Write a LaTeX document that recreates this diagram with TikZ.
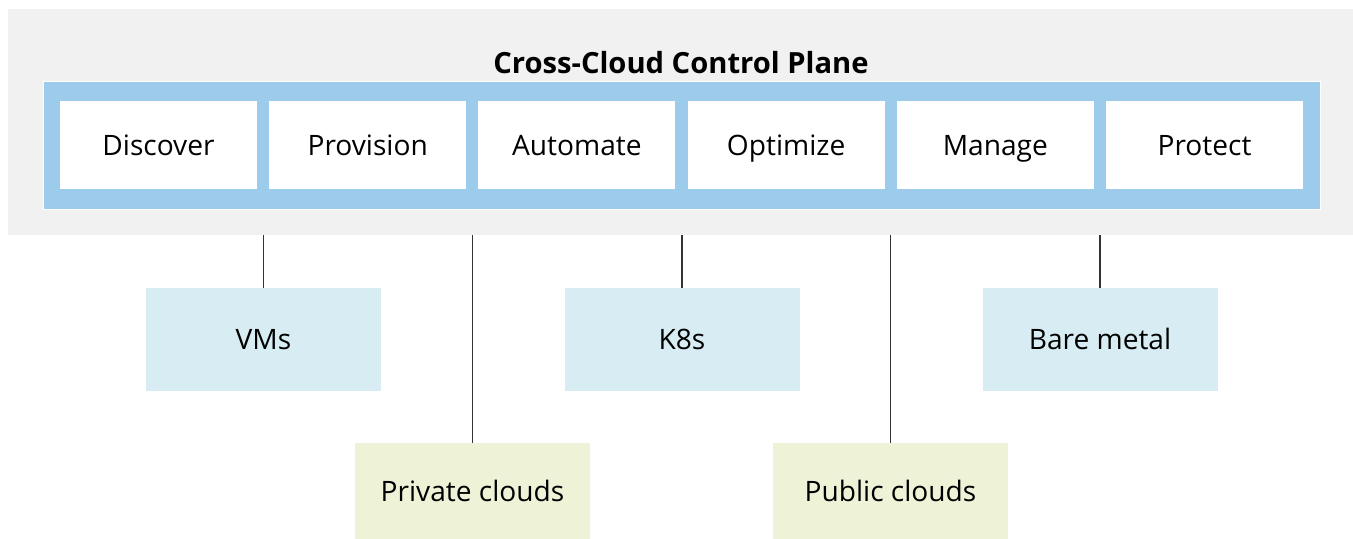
\documentclass[tikz,border=0pt]{standalone}
\usepackage{fontspec}
\setmainfont{Open Sans}
\usetikzlibrary{positioning}
\definecolor{planebg}{HTML}{F1F1F1}
\definecolor{barblue}{HTML}{9DCBEC}
\definecolor{envblue}{HTML}{D7EDF3}
\definecolor{envgreen}{HTML}{EEF3D8}
\definecolor{wire}{HTML}{333333}
\tikzset{
  base/.style={align=center, inner sep=0pt, text height=11.4pt, text depth=0pt,
               font=\fontsize{16}{19}\selectfont},
  fnbox/.style={base, fill=white, minimum width=3.94cm, minimum height=1.76cm},
  envbox/.style={base, fill=envblue, minimum width=4.7cm, minimum height=2.06cm},
  cloudbox/.style={base, fill=envgreen, minimum width=4.7cm, minimum height=1.92cm},
  wireline/.style={draw=wire, line width=1.1pt}
}
\begin{document}
\begin{tikzpicture}[x=1cm,y=1cm]
  \useasboundingbox (0,0) rectangle (27.06,10.78);

  % control plane background and bar
  \node[fill=planebg, inner sep=0pt, minimum width=26.9cm, minimum height=4.52cm] (plane) at (13.61,8.34) {};
  \node[fill=barblue, draw=white, line width=0.5pt, inner sep=0pt, minimum width=25.54cm, minimum height=2.56cm] (bar) at (13.63,7.88) {};
  \node[base, font=\fontsize{16.6}{19}\selectfont\bfseries] (title) at (13.62,9.52) {Cross-Cloud Control Plane};

  \foreach \i/\n in {0/Discover, 1/Provision, 2/Automate, 3/Optimize, 4/Manage, 5/Protect} {
    \node[fnbox] (f\i) at (3.17+4.184*\i,7.88) {\n};
  }

  % environments
  \node[envbox] (vms) at (5.27,3.99) {VMs};
  \node[envbox] (k8s) at (13.64,3.99) {K8s};
  \node[envbox] (metal) at (22.0,3.99) {Bare metal};
  \node[cloudbox] (priv) at (9.45,0.96) {Private clouds};
  \node[cloudbox] (pub) at (17.81,0.96) {Public clouds};

  \foreach \b in {vms,priv,k8s,pub,metal} {
    \draw[wireline] (\b.north) -- (\b.north |- plane.south);
  }
\end{tikzpicture}
\end{document}
